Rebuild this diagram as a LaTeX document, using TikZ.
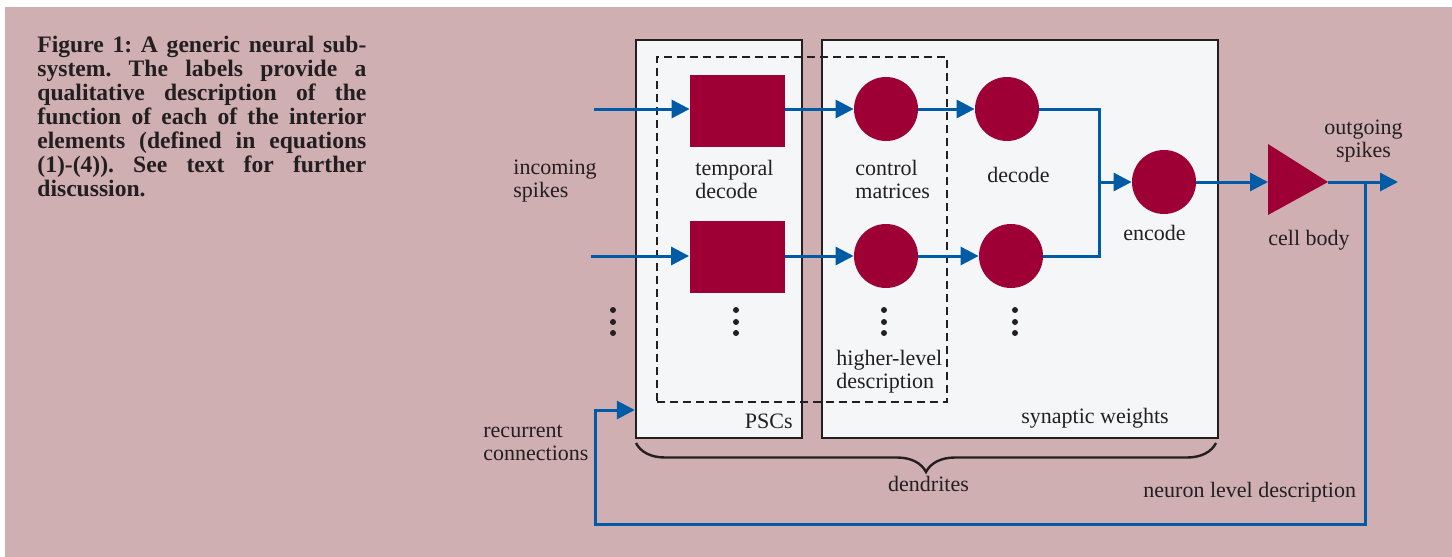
\documentclass[tikz,border=0pt]{standalone}
\usepackage{fontspec}
\setmainfont{Liberation Serif}
\usepackage{xcolor}
\usepackage{tikz}
\usetikzlibrary{arrows.meta, positioning, calc, decorations.pathreplacing}

\definecolor{bgpink}{RGB}{207,175,177}
\definecolor{panel}{RGB}{245,246,248}
\definecolor{neuron}{RGB}{158,0,54}
\definecolor{spike}{RGB}{0,91,167}
\definecolor{ink}{RGB}{35,31,32}

\begin{document}
\begin{tikzpicture}[
        x=0.5pt, y=-0.5pt,
        panelbox/.style={rectangle, draw=ink, line width=1.2pt, fill=panel, inner sep=0pt},
        groupbox/.style={rectangle, draw=ink, line width=0.9pt, dash pattern=on 4pt off 2.5pt, inner sep=0pt},
        square/.style={rectangle, fill=neuron, minimum width=47.5pt, minimum height=36pt, inner sep=0pt},
        disc/.style={circle, fill=neuron, minimum size=32pt, inner sep=0pt},
        desc/.style={inner sep=0pt, text=ink, align=left, font=\fontsize{11}{11.5}\selectfont},
        caption/.style={inner sep=0pt, text=ink, text width=164.5pt, align=justify, font=\fontsize{11.8}{11.95}\selectfont\bfseries\frenchspacing},
        arrow/.style={-{Triangle[length=9pt, width=9pt]}, spike, line width=1.5pt},
        line/.style={spike, line width=1.5pt}
    ]

        % --- Page and background ---
        \useasboundingbox (0,0) rectangle (1452,557);
        \fill[white] (0,0) rectangle (1452,557);
        \fill[bgpink] (5,7) rectangle (1452,557);

        % --- Caption ---
        \node[caption, anchor=base west] (cap) at (37,53) {Figure 1: A generic neural sub-\linebreak system. The labels provide a\linebreak qualitative description of the\linebreak function of each of the interior\linebreak elements (defined in equations\linebreak (1)-(4)). See text for further\linebreak discussion.};

        % --- Panels ---
        \node[panelbox, minimum width=83pt, minimum height=199pt] (psc_box) at (719,239) {};
        \node[panelbox, minimum width=198pt, minimum height=199pt] (syn_box) at (1020,239) {};
        \node[groupbox, minimum width=145pt, minimum height=172.5pt] (dash_box) at (802,229.5) {};

        % --- Elements ---
        \node[square] (sq1) at (737.5,111) {};
        \node[square] (sq2) at (737,257) {};
        \node[disc] (ctl1) at (886,109) {};
        \node[disc] (ctl2) at (886,256) {};
        \node[disc] (dec1) at (1007,109) {};
        \node[disc] (dec2) at (1011,256) {};
        \node[disc] (enc) at (1164,182) {};

        % cell body
        \coordinate (soma_in) at (1268,182);
        \coordinate (soma_out) at (1328,182);
        \fill[neuron] (1268,144) -- (soma_out) -- (1268,215) -- cycle;

        % dots
        \fill[ink] (613,310) circle (1.5pt) (613,322) circle (1.5pt) (613,333) circle (1.5pt);
        \fill[ink] (736,310) circle (1.5pt) (736,322) circle (1.5pt) (736,333) circle (1.5pt);
        \fill[ink] (884,310) circle (1.5pt) (884,322) circle (1.5pt) (884,333) circle (1.5pt);
        \fill[ink] (1015,310) circle (1.5pt) (1015,322) circle (1.5pt) (1015,333) circle (1.5pt);

        % --- Labels (two-line ones sit on their last line) ---
        \node[desc, anchor=base west] (lbl_in) at (513,197) {incoming\\spikes};
        \node[desc, anchor=base west] (lbl_td) at (695,198) {temporal\\decode};
        \node[desc, anchor=base west] (lbl_cm) at (855,198) {control\\matrices};
        \node[desc, anchor=base] (lbl_dec) at (1018.5,182) {decode};
        \node[desc, anchor=base] (lbl_enc) at (1154.5,240) {encode};
        \node[desc, anchor=base west] (lbl_cell) at (1268,245) {cell body};
        \node[desc, anchor=base, align=center] (lbl_out) at (1363.5,157) {outgoing\\spikes};
        \node[desc, anchor=base west] (lbl_hl) at (836,388) {higher-level\\description};
        \node[desc, anchor=base east] (lbl_psc) at (793,428) {PSCs};
        \node[desc, anchor=base west] (lbl_syn) at (1021,423) {synaptic weights};
        \node[desc, anchor=base west] (lbl_rec) at (483,460) {recurrent\\connections};
        \node[desc, anchor=base west] (lbl_neu) at (1143,497) {neuron level description};

        % --- Connections ---
        \coordinate (in1) at (594,109);
        \coordinate (in2) at (591,256);
        \draw[arrow] (in1) -- (in1 -| sq1.west);
        \draw[arrow] (in2) -- (in2 -| sq2.west);
        \draw[arrow] (ctl1.west -| sq1.east) -- (ctl1.west);
        \draw[arrow] (ctl2.west -| sq2.east) -- (ctl2.west);
        \draw[arrow] (ctl1.east) -- (dec1.west);
        \draw[arrow] (ctl2.east) -- (dec2.west);

        \coordinate (merge) at (1099,182);
        \draw[line] (dec1.east) -| (merge |- dec2.east) -- (dec2.east);
        \draw[arrow] (merge) -- (enc.west);
        \draw[arrow] (enc.east) -- (soma_in);

        \coordinate (out) at (1398,182);
        \coordinate (tap) at (1365,182);
        \coordinate (loop) at (595,524);
        \draw[arrow] (soma_out) -- (out);
        \draw[arrow] (tap) |- (loop) |- (psc_box.west |- 0,410);

        % --- Dendrites brace ---
        \coordinate (br_l) at (636,443);
        \coordinate (br_r) at (1216,443);
        \draw[ink, line width=1.2pt, decorate, decoration={brace, mirror, amplitude=14.5pt}] (br_l) -- (br_r);
        \node[desc, anchor=base] (lbl_den) at (928.5,491) {dendrites};

    \end{tikzpicture}
\end{document}
